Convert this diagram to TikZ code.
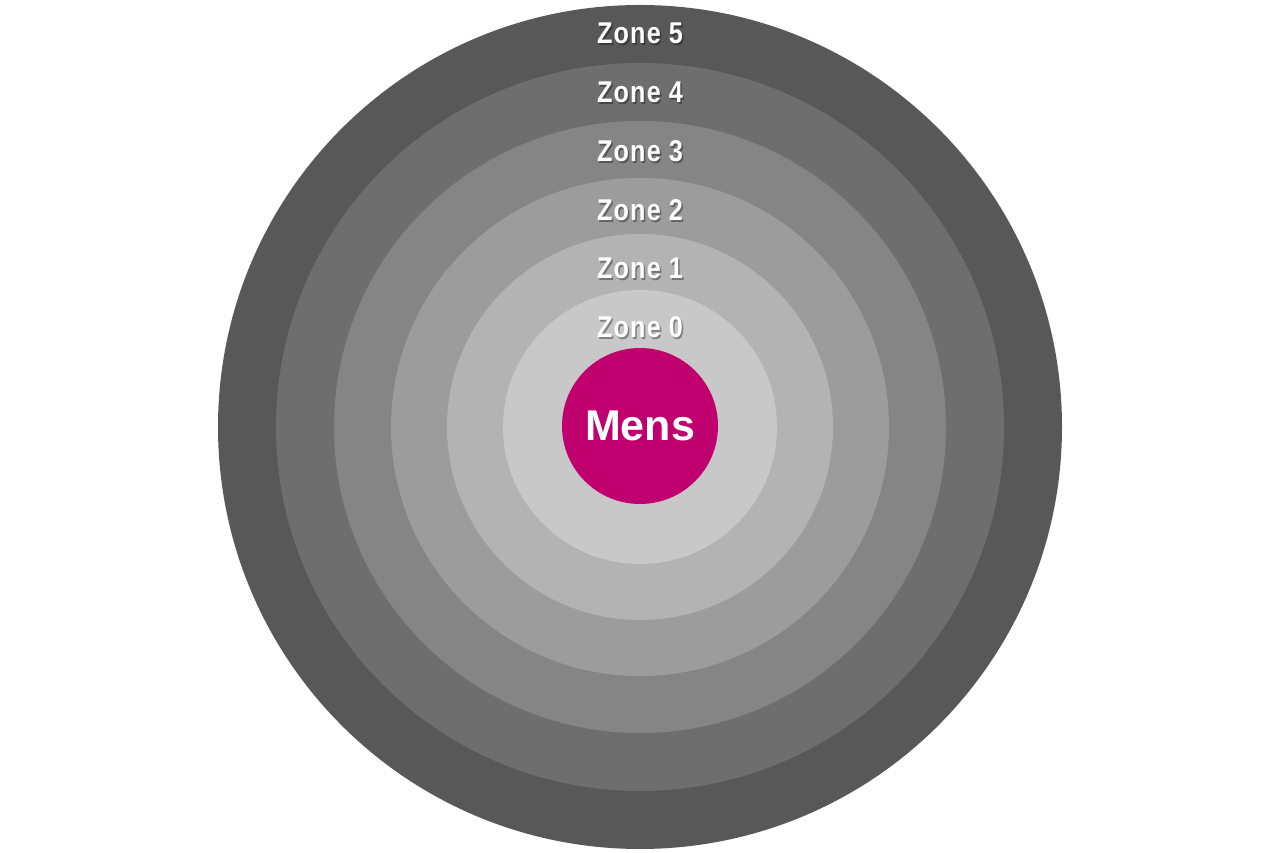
\documentclass[tikz,border=0pt]{standalone}
\usepackage{fontspec}
\setmainfont{Liberation Sans}
\newfontfamily\zonefont[FakeStretch=0.84,LetterSpace=4]{Liberation Sans Bold}
\definecolor{ring5}{HTML}{585858}
\definecolor{ring4}{HTML}{6E6E6E}
\definecolor{ring3}{HTML}{858585}
\definecolor{ring2}{HTML}{9C9C9C}
\definecolor{ring1}{HTML}{B3B3B3}
\definecolor{ring0}{HTML}{C8C8C8}
\definecolor{mens}{HTML}{C0006F}
\usetikzlibrary{calc}
\tikzset{
  ringdisc/.style={circle, draw=none, inner sep=0pt, minimum size=#1},
  zonelabel/.style={text=white, font=\zonefont\fontsize{30}{31}\selectfont, inner sep=0pt, anchor=center},
  zoneshadow/.style={text=black, opacity=0.35, font=\zonefont\fontsize{30}{31}\selectfont, inner sep=0pt, anchor=center},
}
\newcommand{\zonelbl}[3]{%
  \node[zoneshadow] (#1s) at ($(#2)+(1.5,-2)$) {#3};
  \node[zonelabel] (#1) at (#2) {#3};
}
\begin{document}
\begin{tikzpicture}[x=1pt,y=1pt]
\useasboundingbox (0,0) rectangle (1280,853);
\fill[white] (0,0) rectangle (1280,853);
\coordinate (c) at (640,426);
\node[ringdisc=844pt, fill=ring5] (z5) at (c) {};
\node[ringdisc=728pt, fill=ring4] (z4) at (c) {};
\node[ringdisc=612pt, fill=ring3] (z3) at (c) {};
\node[ringdisc=498pt, fill=ring2] (z2) at (c) {};
\node[ringdisc=386pt, fill=ring1] (z1) at (c) {};
\node[ringdisc=274pt, fill=ring0] (z0) at (c) {};
\node[ringdisc=156pt, fill=mens, text=white, font=\bfseries\fontsize{43}{45}\selectfont] (m) at (640,427) {Mens};
\zonelbl{l5}{640,820}{Zone 5}
\zonelbl{l4}{640,761}{Zone 4}
\zonelbl{l3}{640,702}{Zone 3}
\zonelbl{l2}{640,643}{Zone 2}
\zonelbl{l1}{640,585}{Zone 1}
\zonelbl{l0}{640,526}{Zone 0}
\end{tikzpicture}
\end{document}
